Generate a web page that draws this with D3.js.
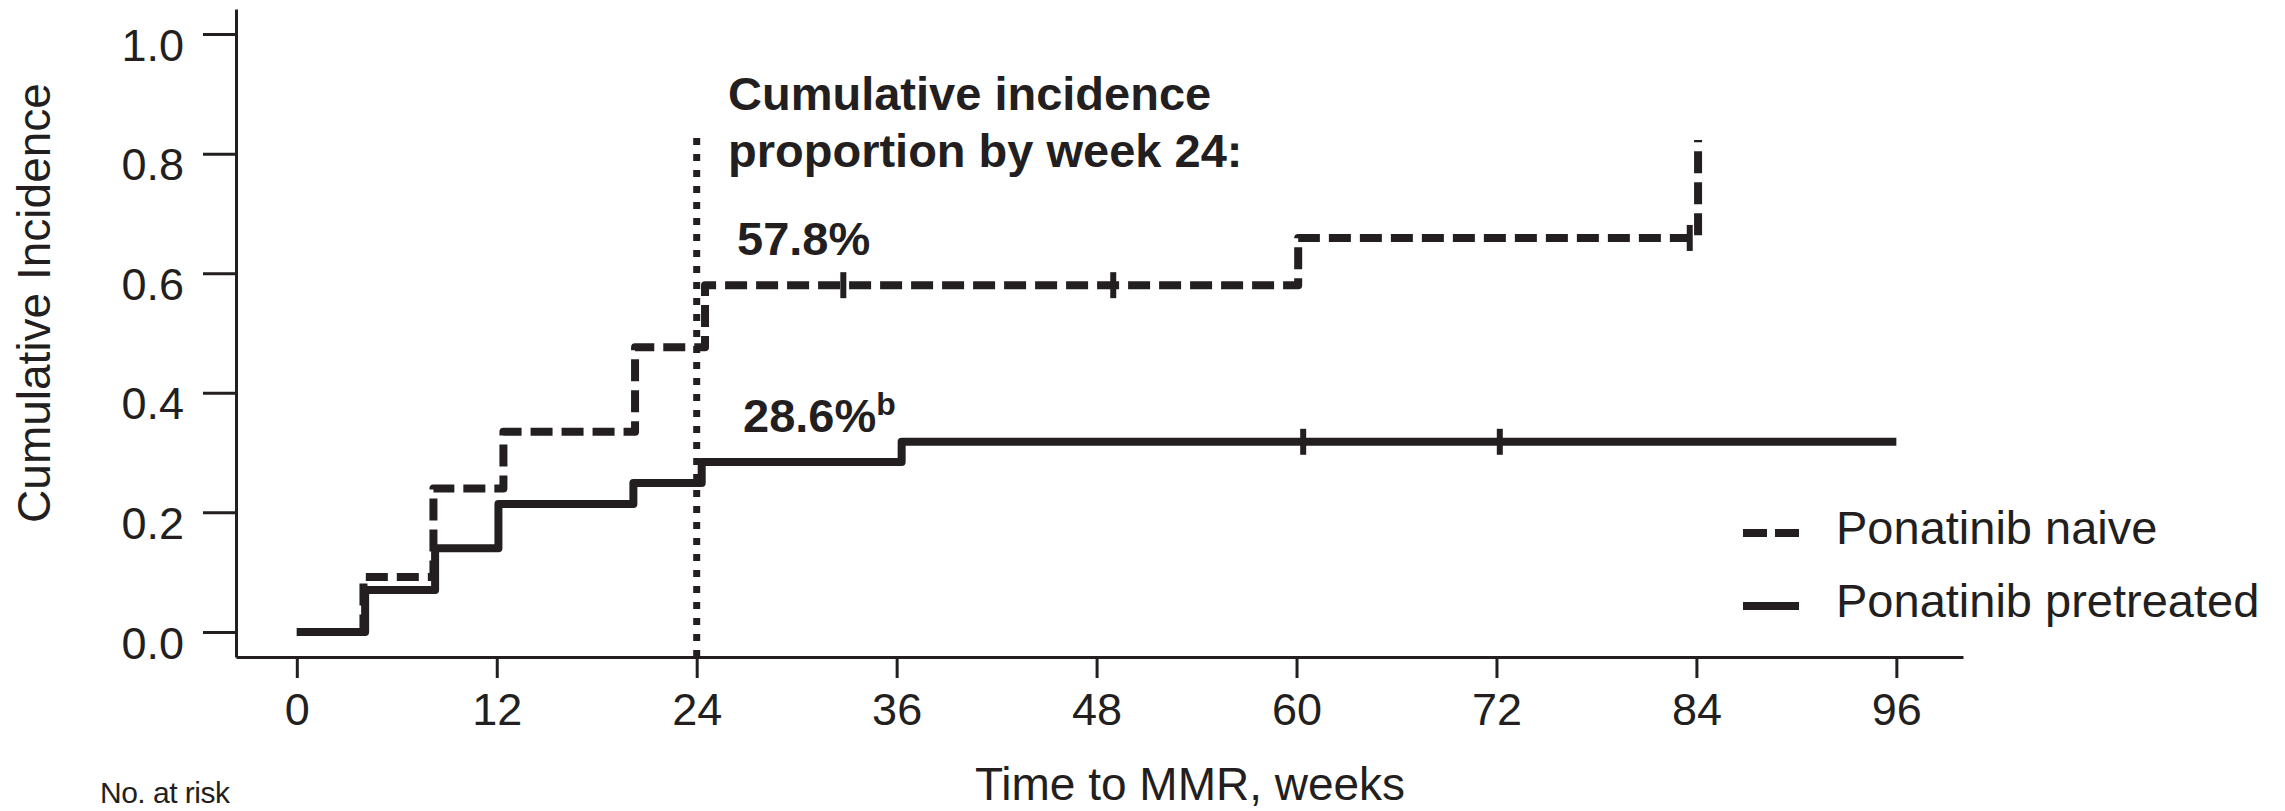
<!DOCTYPE html>
<html>
<head>
<meta charset="utf-8">
<script src="https://cdn.jsdelivr.net/npm/d3@7"></script>
<style>
  body { margin: 0; background: #fff; }
  svg text { font-family: "Liberation Sans", Arial, sans-serif; fill: #231f20; }
</style>
</head>
<body>
<div id="app"></div>
<script>
// step data (weeks, cumulative incidence)
const naiveWeeks = [0, 4.0, 8.2, 12.4, 20.3, 24.5, 60.1, 84.1];
const naiveCI = [0, 0.092, 0.24, 0.335, 0.476, 0.58, 0.659, 0.823];
const pretreatedWeeks = [0, 4.1, 8.3, 12.1, 20.2, 24.3, 36.3, 96];
const pretreatedCI = [0, 0.07, 0.14, 0.214, 0.249, 0.284, 0.318, 0.318];

// censor marks
const naiveCensorWeeks = [32.8, 49.0, 83.6];
const pretreatedCensorWeeks = [60.4, 72.2];

const xTicks = [0, 12, 24, 36, 48, 60, 72, 84, 96];
const yTicks = [0, 0.2, 0.4, 0.6, 0.8, 1.0];
const legendLabels = ["Ponatinib naive", "Ponatinib pretreated"];
const landmarkWeek = 24;
const landmarkTop = 0.826;

const ink = "#231f20";
const width = 2285, height = 811;

const svg = d3.select("#app")
    .append("svg")
        .attr("width", width)
        .attr("height", height);

let x = d3.scaleLinear()
    .domain([-3.65, 100])
    .range([236, 1963]);

let y = d3.scaleLinear()
    .domain([-0.042, 1.042])
    .range([657, 9]);

// x axis
let gx = svg.append("g")
    .attr("transform", "translate(0," + y.range()[0] + ")")
    .call(d3.axisBottom(x).tickValues(xTicks).tickSize(21).tickSizeOuter(0).tickPadding(15));
gx.selectAll("text").attr("font-size", 45).attr("font-family", null).style("fill", ink);

// y axis
let gy = svg.append("g")
    .attr("transform", "translate(" + x.range()[0] + ",0)")
    .call(d3.axisLeft(y).tickValues(yTicks).tickFormat(d3.format(".1f")).tickSize(33).tickSizeOuter(0).tickPadding(19));
gy.selectAll("text").attr("font-size", 45).attr("dy", "0.58em").attr("font-family", null).style("fill", ink);

svg.selectAll(".domain, .tick line").attr("stroke", ink).attr("stroke-width", 3);

// axis titles
svg.append("text")
    .attr("x", 1190).attr("y", 800)
    .attr("text-anchor", "middle")
    .attr("font-size", 46)
    .text("Time to MMR, weeks");

svg.append("text")
    .attr("transform", "translate(50,303) rotate(-90)")
    .attr("text-anchor", "middle")
    .attr("font-size", 46)
    .text("Cumulative Incidence");

svg.append("text")
    .attr("x", 100).attr("y", 803)
    .attr("font-size", 30)
    .attr("letter-spacing", -0.5)
    .text("No. at risk");

// landmark line at week 24
svg.append("line")
    .attr("x1", x(landmarkWeek)).attr("x2", x(landmarkWeek))
    .attr("y1", y(landmarkTop)).attr("y2", y.range()[0])
    .attr("stroke", ink)
    .attr("stroke-width", 7)
    .attr("stroke-dasharray", "7,9");

const line = d3.line()
    .x(d => x(d[0]))
    .y(d => y(d[1]))
    .curve(d3.curveStepAfter);

const naive = d3.zip(naiveWeeks, naiveCI);
const pretreated = d3.zip(pretreatedWeeks, pretreatedCI);

svg.append("path")
    .datum(naive)
    .attr("d", line)
    .attr("fill", "none")
    .attr("stroke", ink)
    .attr("stroke-width", 8)
    .attr("stroke-linejoin", "round")
    .attr("stroke-dasharray", "22,9");

svg.append("path")
    .datum(pretreated)
    .attr("d", line)
    .attr("fill", "none")
    .attr("stroke", ink)
    .attr("stroke-width", 8)
    .attr("stroke-linejoin", "round");

function stepValue(weeks, values, t) {
    let i = d3.bisectRight(weeks, t) - 1;
    return values[Math.max(0, i)];
}

const censors = naiveCensorWeeks.map(t => [t, stepValue(naiveWeeks, naiveCI, t)])
    .concat(pretreatedCensorWeeks.map(t => [t, stepValue(pretreatedWeeks, pretreatedCI, t)]));

svg.append("g").selectAll("line")
    .data(censors)
    .enter().append("line")
        .attr("x1", d => x(d[0])).attr("x2", d => x(d[0]))
        .attr("y1", d => y(d[1]) - 13).attr("y2", d => y(d[1]) + 13)
        .attr("stroke", ink)
        .attr("stroke-width", 6);

// annotation
svg.append("text")
    .attr("x", 728).attr("y", 110)
    .attr("font-size", 47).attr("font-weight", "bold")
    .text("Cumulative incidence");
svg.append("text")
    .attr("x", 728).attr("y", 167)
    .attr("font-size", 47).attr("font-weight", "bold")
    .text("proportion by week 24:");
svg.append("text")
    .attr("x", 737).attr("y", 255)
    .attr("font-size", 47).attr("font-weight", "bold")
    .text("57.8%");
let pre = svg.append("text")
    .attr("x", 743).attr("y", 432)
    .attr("font-size", 47).attr("font-weight", "bold")
    .text("28.6%");
pre.append("tspan")
    .attr("font-size", 32)
    .attr("dy", -17)
    .text("b");

// legend
const legend = svg.append("g");
legendLabels.forEach((label, i) => {
    let ly = 533 + i * 73;
    legend.append("line")
        .attr("x1", 1743).attr("x2", 1799)
        .attr("y1", ly).attr("y2", ly)
        .attr("stroke", ink)
        .attr("stroke-width", 8)
        .attr("stroke-dasharray", i === 0 ? "24,8" : null);
    legend.append("text")
        .attr("x", 1836).attr("y", ly + 11)
        .attr("font-size", 47)
        .text(label);
});
</script>
</body>
</html>
